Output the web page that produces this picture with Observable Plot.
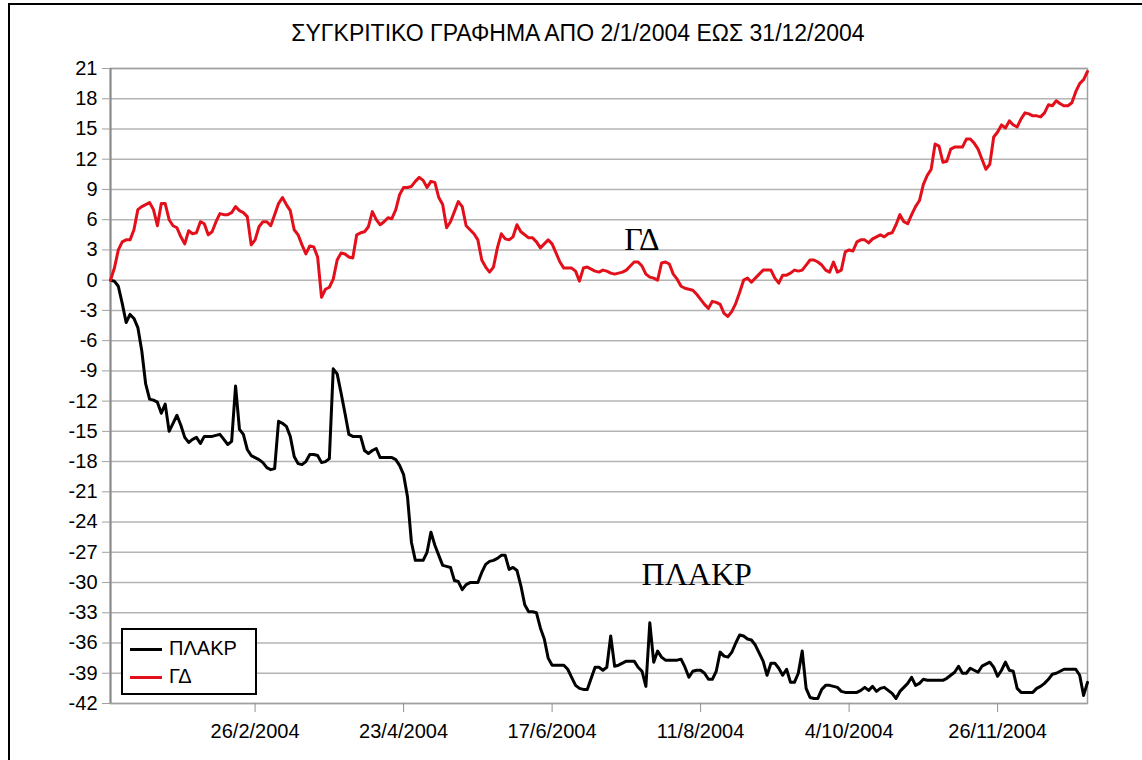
<!DOCTYPE html>
<html><head><meta charset="utf-8">
<script src="https://cdn.jsdelivr.net/npm/d3@7"></script>
<script src="https://cdn.jsdelivr.net/npm/@observablehq/plot@0.6"></script>
<style>
body{margin:0;background:#fff;}
#wrap{position:relative;width:1142px;height:760px;overflow:hidden;font-family:"Liberation Sans",Arial,sans-serif;color:#000;}
#border{position:absolute;left:8px;top:3px;width:1300px;height:900px;border-top:2px solid #000;border-left:2px solid #000;}
#title{position:absolute;left:0;width:1156px;top:20px;text-align:center;font-size:23px;line-height:26px;}
#chart{position:absolute;left:0;top:0;}
#legend{position:absolute;left:121px;top:628px;width:132px;height:63px;border:2px solid #000;background:#fff;font-size:20px;}
.row{position:absolute;left:7px;height:24px;line-height:24px;white-space:nowrap;}
.sw{display:inline-block;width:32px;height:3px;vertical-align:middle;margin-right:7px;}
</style></head>
<body>
<div id="wrap">
  <div id="border"></div>
  <div id="title"></div>
  <div id="chart"></div>
  <div id="legend"></div>
</div>
<script>
const titleText = "ΣΥΓΚΡΙΤΙΚΟ ΓΡΑΦΗΜΑ ΑΠΟ 2/1/2004 ΕΩΣ 31/12/2004";
const seriesNames = ["ΠΛΑΚΡ", "ΓΔ"];
const seriesColors = ["#000000", "#e3101b"];

// trading-day positions of the x tick labels
const tickDays = [37, 75, 113, 151, 189, 227];
const tickLabels = ["26/2/2004", "23/4/2004", "17/6/2004", "11/8/2004", "4/10/2004", "26/11/2004"];
const yTicks = [-42, -39, -36, -33, -30, -27, -24, -21, -18, -15, -12, -9, -6, -3, 0, 3, 6, 9, 12, 15, 18, 21];

// ΓΔ, one value per trading day (%)
const gdValues = [
0,1.2,3.0,3.8,4.0,4.0,5.0,7.0,7.3,7.5,7.7,7.0,5.4,7.6,7.6,6.0,5.4,5.2,4.3,3.6,
4.9,4.6,4.7,5.8,5.6,4.5,4.8,5.8,6.6,6.5,6.5,6.7,7.3,6.9,6.7,6.3,3.5,4.0,5.3,5.8,
5.8,5.4,6.5,7.6,8.2,7.5,6.9,5.0,4.5,3.5,2.6,3.4,3.3,2.3,-1.7,-0.9,-0.7,0.1,2.0,2.7,
2.6,2.3,2.2,4.5,4.7,4.8,5.3,6.8,6.0,5.5,5.8,6.2,6.1,7.0,8.5,9.2,9.2,9.3,9.8,10.2,
9.9,9.2,9.8,9.7,8.2,7.5,5.2,5.8,6.8,7.8,7.3,5.4,5.0,4.6,4.0,2.0,1.3,0.8,1.3,3.2,
4.6,4.1,4.0,4.3,5.5,4.8,4.5,4.2,4.2,3.8,3.2,3.6,4.0,3.6,2.7,1.8,1.2,1.2,1.2,0.9,
-0.1,1.2,1.3,1.1,0.9,0.8,1.0,0.9,0.7,0.6,0.7,0.8,1.0,1.4,1.8,1.8,1.4,0.6,0.3,0.2,
0.0,1.7,1.8,1.6,0.6,0.1,-0.6,-0.8,-0.9,-1.0,-1.4,-1.9,-2.4,-2.8,-2.1,-2.2,-2.4,-3.3,-3.6,-3.1,
-2.3,-1.2,0.0,0.2,-0.2,0.2,0.6,1.0,1.0,1.0,0.2,-0.3,0.5,0.5,0.7,1.0,0.9,1.0,1.5,2.0,
2.0,1.8,1.5,1.0,0.8,1.8,0.8,1.0,2.8,3.0,2.9,3.8,4.0,4.0,3.7,4.1,4.3,4.5,4.3,4.6,
4.7,5.5,6.5,5.8,5.6,6.5,7.3,7.9,9.5,10.4,11.0,13.5,13.3,11.7,11.8,13.0,13.2,13.2,13.2,14.0,
14.0,13.6,13.0,12.0,11.0,11.5,14.2,14.7,15.4,15.1,15.8,15.4,15.2,16.0,16.6,16.5,16.3,16.3,16.2,16.6,
17.4,17.3,17.8,17.5,17.3,17.3,17.6,18.7,19.5,19.9,20.7
];

// ΠΛΑΚΡ, one value per trading day (%)
const plakrValues = [
0,-0.1,-0.6,-2.3,-4.2,-3.4,-3.8,-4.7,-7.0,-10.3,-11.8,-11.9,-12.1,-13.2,-12.3,-15.0,-14.2,-13.4,-14.4,-15.6,
-16.1,-15.8,-15.6,-16.2,-15.5,-15.5,-15.5,-15.4,-15.3,-15.8,-16.3,-16.0,-10.5,-14.8,-15.3,-16.8,-17.4,-17.6,-17.8,-18.1,
-18.6,-18.8,-18.7,-14.0,-14.2,-14.5,-15.5,-17.5,-18.2,-18.3,-18.0,-17.3,-17.3,-17.4,-18.1,-18.0,-17.7,-8.8,-9.3,-11.2,
-13.2,-15.3,-15.5,-15.5,-15.5,-16.9,-17.2,-16.9,-16.7,-17.6,-17.6,-17.6,-17.6,-17.8,-18.4,-19.3,-21.5,-26.0,-27.8,-27.8,
-27.8,-27.0,-25.0,-26.3,-27.3,-28.3,-28.4,-28.5,-29.8,-29.9,-30.7,-30.2,-30.0,-30.0,-30.0,-29.0,-28.2,-27.9,-27.8,-27.6,
-27.3,-27.3,-28.7,-28.5,-28.8,-30.3,-32.2,-32.9,-32.9,-33.0,-34.5,-35.6,-37.5,-38.2,-38.2,-38.2,-38.2,-38.6,-39.4,-40.2,
-40.5,-40.6,-40.6,-39.5,-38.4,-38.4,-38.7,-38.4,-35.3,-38.3,-38.2,-38.0,-37.8,-37.8,-37.8,-38.4,-38.8,-40.3,-34.0,-37.9,
-36.8,-37.4,-37.7,-37.7,-37.7,-37.7,-37.6,-38.4,-39.4,-38.8,-38.7,-38.7,-39.0,-39.6,-39.6,-38.8,-36.9,-37.3,-37.4,-36.9,
-36.0,-35.2,-35.3,-35.6,-35.7,-36.2,-37.0,-37.8,-39.2,-38.0,-38.0,-38.5,-39.2,-38.6,-39.9,-39.9,-39.0,-36.8,-40.5,-41.4,
-41.5,-41.5,-40.6,-40.2,-40.2,-40.3,-40.4,-40.8,-40.9,-40.9,-40.9,-40.9,-40.7,-40.4,-40.7,-40.3,-40.8,-40.5,-40.4,-40.7,
-41.0,-41.5,-40.8,-40.4,-40.0,-39.4,-40.2,-40.0,-39.6,-39.7,-39.7,-39.7,-39.7,-39.7,-39.5,-39.2,-38.9,-38.3,-39.0,-39.0,
-38.5,-38.7,-38.9,-38.3,-38.1,-37.9,-38.4,-39.3,-38.7,-37.9,-38.7,-38.8,-40.5,-40.9,-40.9,-40.9,-40.9,-40.5,-40.3,-40.0,
-39.6,-39.1,-39.0,-38.8,-38.6,-38.6,-38.6,-38.6,-39.2,-41.2,-39.9
];

// in-chart series labels (trading day, value)
const labelNames = ["ΓΔ", "ΠΛΑΚΡ"];
const labelDays = [136, 150];
const labelValues = [3.0, -30.2];

const labels = labelNames.map((n, i) => ({name: n, day: labelDays[i], value: labelValues[i]}));

document.getElementById("title").textContent = titleText;

const chart = Plot.plot({
  width: 1142,
  height: 760,
  marginLeft: 110,
  marginRight: 55,
  marginTop: 68,
  marginBottom: 57,
  style: {fontFamily: "'Liberation Sans', Arial, sans-serif", fontSize: "20px", background: "transparent", color: "#000", overflow: "visible"},
  x: {domain: [0, gdValues.length - 1]},
  y: {domain: [-42, 21]},
  marks: [
    Plot.gridY(yTicks, {stroke: "#b4b4b4", strokeOpacity: 1, strokeWidth: 1.5}),
    Plot.frame({stroke: "#a0a0a0", strokeWidth: 1.5}),
    Plot.ruleX([0], {stroke: "#8a8a8a", strokeWidth: 2}),
    Plot.axisY(yTicks, {anchor: "left", tickSize: 8, tickPadding: 5, stroke: "#a0a0a0", label: null,
      tickFormat: d => String(d)}),
    Plot.axisX(tickDays, {anchor: "bottom", tickSize: 9, tickPadding: 11, stroke: "#909090", label: null,
      tickFormat: d => tickLabels[tickDays.indexOf(d)]}),
    Plot.lineY(plakrValues, {stroke: seriesColors[0], strokeWidth: 3}),
    Plot.lineY(gdValues, {stroke: seriesColors[1], strokeWidth: 3}),
    Plot.text(labels, {x: "day", y: "value", text: "name", lineAnchor: "bottom", textAnchor: "middle",
      fontFamily: "'Liberation Serif', 'Times New Roman', serif", fontSize: 32, fill: "#000"})
  ]
});
document.getElementById("chart").appendChild(chart);

const legend = document.getElementById("legend");
seriesNames.forEach((name, i) => {
  const row = document.createElement("div");
  row.className = "row";
  row.style.top = (6 + i * 28) + "px";
  const sw = document.createElement("span");
  sw.className = "sw";
  sw.style.background = seriesColors[i];
  row.appendChild(sw);
  row.appendChild(document.createTextNode(name));
  legend.appendChild(row);
});
</script>
</body></html>
